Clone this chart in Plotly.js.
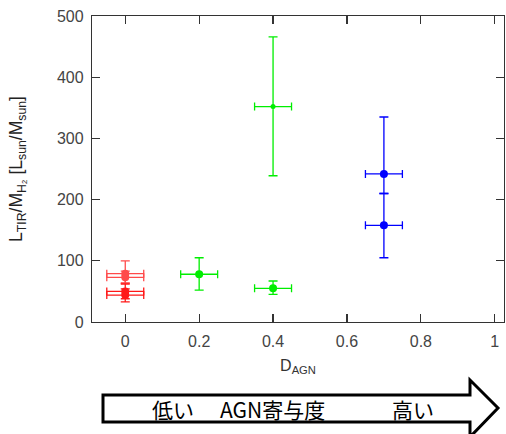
<!DOCTYPE html>
<html><head><meta charset="utf-8">
<script src="https://cdn.plot.ly/plotly-3.0.1.min.js"></script>
<style>html,body{margin:0;padding:0;background:#fff}#c{width:506px;height:434px}</style>
</head><body><div id="c"></div>
<script>
// Red group (D_AGN = 0)
const redX = [0, 0, 0, 0];
const redY = [79, 73, 50, 44];
const redErrUp = [21, 10, 12, 10];
const redErrDown = [15, 10, 12, 11];
// Green group
const greenX = [0.2, 0.4, 0.4];
const greenY = [78, 352, 55];
const greenErrUp = [27, 114, 12];
const greenErrDown = [26, 113, 10];
// Blue group
const blueX = [0.7, 0.7];
const blueY = [242, 158];
const blueErrUp = [93, 52];
const blueErrDown = [32, 53];
const xErr = 0.05;

const xTicks = [0, 0.2, 0.4, 0.6, 0.8, 1];
const xTickText = ['0', '0.2', '0.4', '0.6', '0.8', '1'];
const yTicks = [0, 100, 200, 300, 400, 500];

function tr(x, y, up, down, color, size, opacity) {
  return {
    type: 'scatter', mode: 'markers', x: x, y: y, opacity: opacity,
    marker: {color: color, size: size},
    error_y: {type: 'data', symmetric: false, array: up, arrayminus: down, color: color, thickness: 1.3, width: 4.5},
    error_x: {type: 'constant', value: xErr, color: color, thickness: 1.3, width: 4},
    showlegend: false, hoverinfo: 'skip'
  };
}

const traces = [
  tr(redX.slice(0,2), redY.slice(0,2), redErrUp.slice(0,2), redErrDown.slice(0,2), '#ff0000', 8, 0.7),
  tr(redX.slice(2), redY.slice(2), redErrUp.slice(2), redErrDown.slice(2), '#ff0000', 8, 0.9),
  tr([greenX[0], greenX[2]], [greenY[0], greenY[2]], [greenErrUp[0], greenErrUp[2]], [greenErrDown[0], greenErrDown[2]], '#00ee00', 8, 1),
  tr([greenX[1]], [greenY[1]], [greenErrUp[1]], [greenErrDown[1]], '#00ee00', 5, 1),
  tr(blueX, blueY, blueErrUp, blueErrDown, '#0000ff', 8, 1)
];

function px(x) { return (x - 92) / 412; }
function py(y) { return (322 - y) / 306; }
const arrowPath = 'M ' + px(103) + ' ' + py(395) + ' L ' + px(470) + ' ' + py(395) +
  ' L ' + px(470) + ' ' + py(380) + ' L ' + px(498) + ' ' + py(408) +
  ' L ' + px(470) + ' ' + py(437) + ' L ' + px(470) + ' ' + py(422) +
  ' L ' + px(103) + ' ' + py(422) + ' Z';

const jp = '"Noto Sans CJK JP", sans-serif';
function ann(t, x) {
  return {text: t, x: px(x), y: py(409), xref: 'paper', yref: 'paper', xanchor: 'center', yanchor: 'middle',
    showarrow: false, font: {family: jp, size: 21, color: '#000'}};
}
const layout = {
  width: 506, height: 434,
  margin: {l: 92, r: 2, t: 16, b: 112},
  paper_bgcolor: '#fff', plot_bgcolor: '#fff',
  font: {family: '"Liberation Sans", Arial, sans-serif', size: 16, color: '#444'},
  xaxis: {
    range: [-0.09, 1.025], tickvals: xTicks, ticktext: xTickText,
    ticks: 'inside', ticklen: 8, tickcolor: '#333', tickwidth: 1.2, ticklabelstandoff: 5,
    showline: true, linecolor: '#333', linewidth: 1.2, mirror: 'ticks',
    showgrid: false, zeroline: false,
    title: {text: 'D<sub>AGN</sub>', font: {size: 16, color: '#333'}, standoff: 10}
  },
  yaxis: {
    range: [0, 500], tickvals: yTicks,
    ticks: 'inside', ticklen: 8, tickcolor: '#333', tickwidth: 1.2, ticklabelstandoff: 4,
    showline: true, linecolor: '#333', linewidth: 1.2, mirror: 'ticks',
    showgrid: false, zeroline: false,
    title: {text: 'L<sub>TIR</sub>/M<sub>H₂</sub> [L<sub>sun</sub>/M<sub>sun</sub>]', font: {size: 17.5, color: '#222'}, standoff: 29}
  },
  shapes: [{type: 'path', xref: 'paper', yref: 'paper', path: arrowPath,
    line: {color: '#000', width: 3}, fillcolor: '#fff', layer: 'above'}],
  annotations: [ann('低い', 173), ann('AGN寄与度', 272), ann('高い', 413)]
};
Plotly.newPlot('c', traces, layout, {staticPlot: true});
</script></body></html>
